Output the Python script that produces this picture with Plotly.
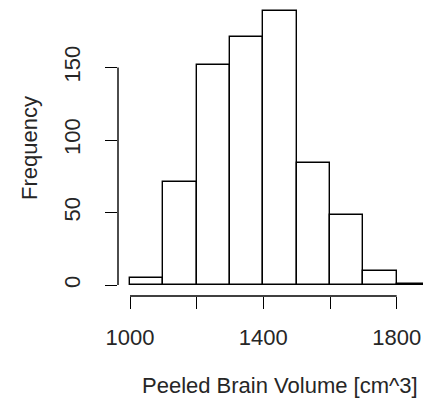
import plotly.graph_objects as go

# Data
bin_edges = [1000, 1100, 1200, 1300, 1400, 1500, 1600, 1700, 1800, 1900]
counts = [5, 71, 152, 171, 189, 84, 48, 10, 1]
x_tick_vals = [1000, 1200, 1400, 1600, 1800]
x_tick_text = ["1000", "", "1400", "", "1800"]
y_tick_vals = [0, 50, 100, 150]
y_tick_text = ["0", "50", "100", "150"]
x_title = "Peeled Brain Volume [cm^3]"
y_title = "Frequency"

centers = [(a + b) / 2 for a, b in zip(bin_edges[:-1], bin_edges[1:])]
widths = [b - a for a, b in zip(bin_edges[:-1], bin_edges[1:])]

FONT = "Liberation Sans, Arial, sans-serif"
TXT = "#262626"
FS = 22

fig = go.Figure(
    go.Bar(
        x=centers,
        y=counts,
        width=widths,
        marker=dict(color="white", line=dict(color="black", width=1.4)),
        hoverinfo="x+y",
    )
)

ymax = max(counts)
fig.update_layout(
    width=423,
    height=411,
    margin=dict(l=118, r=0, t=0, b=115, autoexpand=False),
    paper_bgcolor="white",
    plot_bgcolor="white",
    showlegend=False,
    font=dict(family=FONT, size=FS, color=TXT),
    bargap=0,
    xaxis=dict(
        range=[964, 1879],
        automargin=False,
        showgrid=False,
        zeroline=False,
        showline=False,
        ticks="outside",
        ticklen=12,
        tickwidth=1.4,
        tickcolor="black",
        tickvals=x_tick_vals,
        ticktext=x_tick_text,
        ticklabelstandoff=10,
        tickfont=dict(size=FS, color=TXT),
    ),
    yaxis=dict(
        range=[-0.04 * ymax, 1.04 * ymax],
        automargin=False,
        showgrid=False,
        zeroline=False,
        showline=False,
        ticks="outside",
        ticklen=12,
        tickwidth=1.4,
        tickcolor="black",
        tickvals=y_tick_vals,
        ticktext=y_tick_text,
        tickangle=-90,
        ticklabelstandoff=16,
        tickfont=dict(size=FS, color=TXT),
        title=dict(text=y_title, standoff=16, font=dict(size=FS, color=TXT)),
    ),
)

# x-axis title centred on the full histogram span (as in R's plot region)
fig.add_annotation(
    text=x_title, xref="x", yref="paper",
    x=(bin_edges[0] + bin_edges[-1]) / 2, y=0,
    xanchor="center", yanchor="middle", yshift=-89.5,
    showarrow=False, font=dict(size=FS, color=TXT),
)

# R-style axis lines spanning only first to last tick
fig.add_shape(type="line", xref="paper", yref="y", x0=0, x1=0,
              y0=y_tick_vals[0], y1=y_tick_vals[-1],
              line=dict(color="black", width=1.4))
fig.add_shape(type="line", xref="x", yref="paper", x0=x_tick_vals[0], x1=x_tick_vals[-1],
              y0=0, y1=0, line=dict(color="black", width=1.4))

fig.write_html(
    "out.html",
    config={"displayModeBar": False},
    post_script="document.body.style.margin='0';document.body.style.overflow='hidden';",
)
